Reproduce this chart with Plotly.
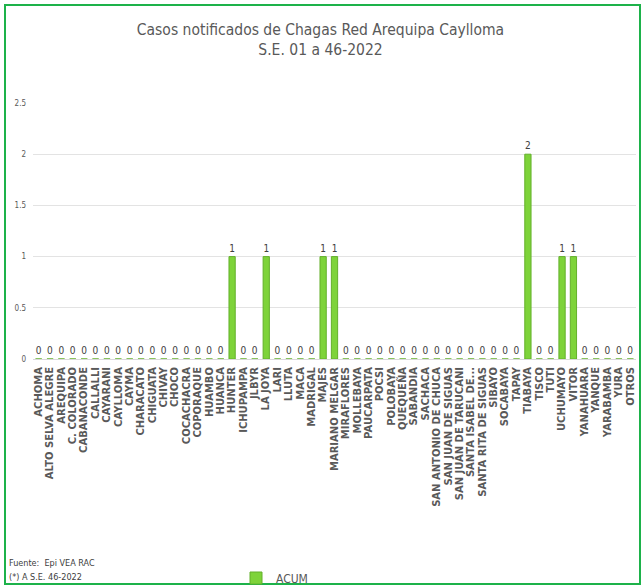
import plotly.graph_objects as go

categories = ["ACHOMA", "ALTO SELVA ALEGRE", "AREQUIPA", "C. COLORADO", "CABANACONDE", "CALLALLI",
              "CAYARANI", "CAYLLOMA", "CAYMA", "CHARACATO", "CHIGUATA", "CHIVAY", "CHOCO",
              "COCACHACRA", "COPORAQUE", "HUAMBO", "HUANCA", "HUNTER", "ICHUPAMPA", "JLBYR",
              "LA JOYA", "LARI", "LLUTA", "MACA", "MADRIGAL", "MAJES", "MARIANO MELGAR",
              "MIRAFLORES", "MOLLEBAYA", "PAUCARPATA", "POCSI", "POLOBAYA", "QUEQUEÑA",
              "SABANDIA", "SACHACA", "SAN ANTONIO DE CHUCA", "SAN JUAN DE SIGUAS",
              "SAN JUAN DE TARUCANI", "SANTA ISABEL DE...", "SANTA RITA DE SIGUAS", "SIBAYO",
              "SOCABAYA", "TAPAY", "TIABAYA", "TISCO", "TUTI", "UCHUMAYO", "VITOR", "YANAHUARA",
              "YANQUE", "YARABAMBA", "YURA", "OTROS"]
acum = [0, 0, 0, 0, 0, 0,
        0, 0, 0, 0, 0, 0, 0,
        0, 0, 0, 0, 1, 0, 0,
        1, 0, 0, 0, 0, 1, 1,
        0, 0, 0, 0, 0, 0,
        0, 0, 0, 0,
        0, 0, 0, 0,
        0, 0, 2, 0, 0, 1, 1, 0,
        0, 0, 0, 0]
y_ticks = [0, 0.5, 1, 1.5, 2, 2.5]

W, H = 641, 586
L, R, T, B = 33, 5, 103, 227
pw, ph = W - L - R, H - T - B

def px(x):
    return (x - L) / pw

def py(y):
    return (H - B - y) / ph

narrow = "DejaVu Sans Condensed, Liberation Sans Narrow, Arial Narrow, sans-serif"

fig = go.Figure()
fig.add_trace(go.Bar(
    x=categories, y=acum, name="ACUM",
    marker=dict(color="#7ED33A", line=dict(color="#63B02A", width=1)),
    text=[str(v) for v in acum], textposition="outside", cliponaxis=False,
    textfont=dict(family=narrow, size=10, color="#404040"),
))

fig.update_layout(
    width=W, height=H,
    margin=dict(l=L, r=R, t=T, b=B, autoexpand=False),
    paper_bgcolor="white", plot_bgcolor="white",
    bargap=0.45,
    title=dict(text="Casos notificados de Chagas Red Arequipa Caylloma<br>S.E. 01 a 46-2022",
               x=0.5, xanchor="center", y=1 - 35 / H, yanchor="top",
               font=dict(family=narrow, size=15.5, color="#595959")),
    xaxis=dict(type="category", tickangle=-90, showgrid=False, showline=False,
               tickmode="linear", tick0=0, dtick=1, ticklabelstandoff=5,
               ticks="", tickfont=dict(family="DejaVu Sans", size=10, color="#595959",
                                       weight="bold")),
    yaxis=dict(range=[0, 2.5], tickvals=y_ticks, ticktext=[f"{v:g}" for v in y_ticks],
               showgrid=True, gridcolor="#E3E3E3", gridwidth=1, zeroline=True,
               zerolinecolor="#D9D9D9", zerolinewidth=1, ticklabelstandoff=6,
               tickfont=dict(family=narrow, size=8, color="#595959"), ticks=""),
    showlegend=True,
    legend=dict(orientation="h", x=px(236), y=py(578), xanchor="left", yanchor="middle",
                font=dict(family=narrow, size=12, color="#595959"),
                itemwidth=30, bgcolor="rgba(0,0,0,0)"),
    shapes=[dict(type="rect", xref="paper", yref="paper",
                 x0=px(5), x1=px(640), y0=py(584), y1=py(5),
                 line=dict(color="#1DB24A", width=2), layer="above")],
    annotations=[
        dict(text="Fuente:  Epi VEA RAC", xref="paper", yref="paper", x=px(7), y=py(563),
             xanchor="left", yanchor="middle", showarrow=False,
             font=dict(family=narrow, size=9, color="#404040")),
        dict(text="(*) A S.E. 46-2022", xref="paper", yref="paper", x=px(7), y=py(577),
             xanchor="left", yanchor="middle", showarrow=False,
             font=dict(family=narrow, size=9, color="#404040")),
    ],
)

fig.write_html("out.html", config={"displayModeBar": False},
               post_script="document.body.style.margin='0';")
